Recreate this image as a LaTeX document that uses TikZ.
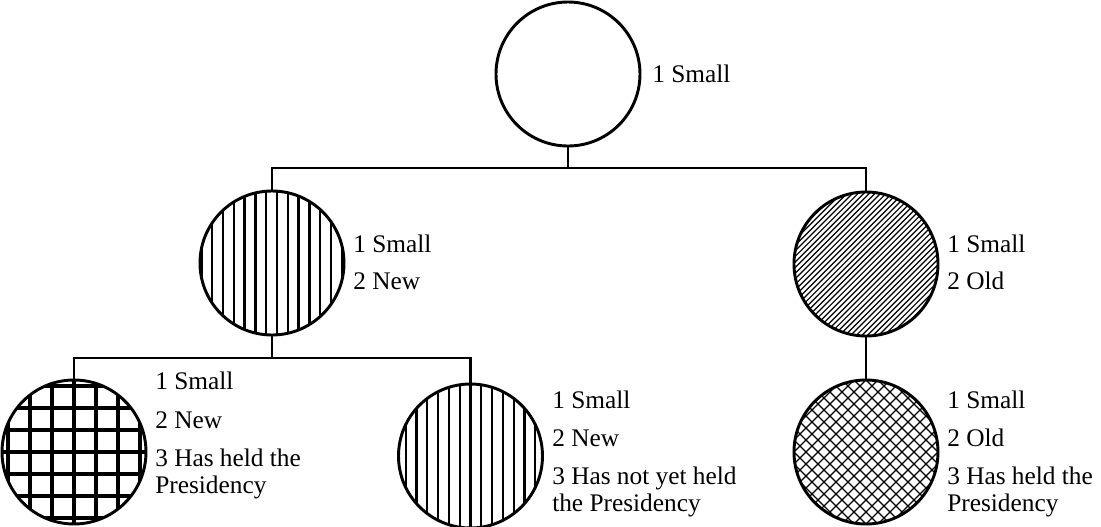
\documentclass[tikz,border=0pt]{standalone}
\usepackage{fontspec}
\setmainfont{Liberation Serif}
\begin{document}
\begin{tikzpicture}[x=0.75pt,y=-0.75pt,
  disc/.style={circle,draw=black,line width=2.2pt,minimum size=108pt,inner sep=0pt,fill=white},
  vlinesA/.style={path picture={\begin{scope}[shift={(path picture bounding box.center)}]
      \foreach \i in {-8,...,8} \draw[line width=1.7pt] (\i*10.8+5,-80) -- (\i*10.8+5,80);
    \end{scope}}},
  vlinesB/.style={path picture={\begin{scope}[shift={(path picture bounding box.center)}]
      \foreach \i in {-8,...,8} \draw[line width=1.7pt] (\i*10.8,-80) -- (\i*10.8,80);
    \end{scope}}},
  gridfill/.style={path picture={\begin{scope}[shift={(path picture bounding box.center)}]
      \foreach \i in {-4,...,4} {\draw[line width=2.3pt] (\i*22,-80) -- (\i*22,80);
                                 \draw[line width=2.3pt] (-80,\i*22) -- (80,\i*22);}
    \end{scope}}},
  diagfill/.style={path picture={\begin{scope}[shift={(path picture bounding box.center)}]
      \foreach \i in {-30,...,30} \draw[line width=0.9pt] (\i*5.6-90,90) -- (\i*5.6+90,-90);
    \end{scope}}},
  crossfill/.style={path picture={\begin{scope}[shift={(path picture bounding box.center)}]
      \foreach \i in {-15,...,15} {\draw[line width=0.9pt] (\i*12-90,90) -- (\i*12+90,-90);
                                   \draw[line width=0.9pt] (\i*12-90,-90) -- (\i*12+90,90);}
    \end{scope}}},
  conn/.style={line width=2.2pt},
  lbl/.style={anchor=base west,inner sep=0pt,font=\fontsize{19}{20}\selectfont}
]
\useasboundingbox (0,0) rectangle (1101,526);

% circles
\node[disc] (top) at (568,74) {};
\node[disc,vlinesA] (ml) at (272,263) {};
\node[disc,diagfill] (mr) at (866,264) {};
\node[disc,gridfill] (bl) at (74,452) {};
\node[disc,vlinesB] (bm) at (470.5,456) {};
\node[disc,crossfill] (br) at (866,452) {};

% connectors
\coordinate (j1) at (568,168);
\coordinate (j2) at (272,358);
\draw[conn] (top.south) -- (j1);
\draw[conn] (ml.north) -- (ml.north |- j1) -- (mr.north |- j1) -- (mr.north);
\draw[conn] (ml.south) -- (j2);
\draw[conn] (bl.north) -- (bl.north |- j2) -- (bm.north |- j2) -- (bm.north);
\draw[conn] (mr.south) -- (br.north);

% labels
\node[lbl] (t1) at (652,82) {1 Small};

\node[lbl] (ml1) at (353,252) {1 Small};
\node[lbl] (ml2) at (353,289) {2 New};

\node[lbl] (mr1) at (947,252) {1 Small};
\node[lbl] (mr2) at (947,289) {2 Old};

\node[lbl] (bl1) at (155,389) {1 Small};
\node[lbl] (bl2) at (155,428) {2 New};
\node[lbl] (bl3) at (155,466) {3 Has held the};
\node[lbl] (bl4) at (155,493) {Presidency};

\node[lbl] (bm1) at (552,408) {1 Small};
\node[lbl] (bm2) at (552,446) {2 New};
\node[lbl] (bm3) at (552,484) {3 Has not yet held};
\node[lbl] (bm4) at (552,511) {the Presidency};

\node[lbl] (br1) at (947,408) {1 Small};
\node[lbl] (br2) at (947,446) {2 Old};
\node[lbl] (br3) at (947,484) {3 Has held the};
\node[lbl] (br4) at (947,511) {Presidency};
\end{tikzpicture}
\end{document}
